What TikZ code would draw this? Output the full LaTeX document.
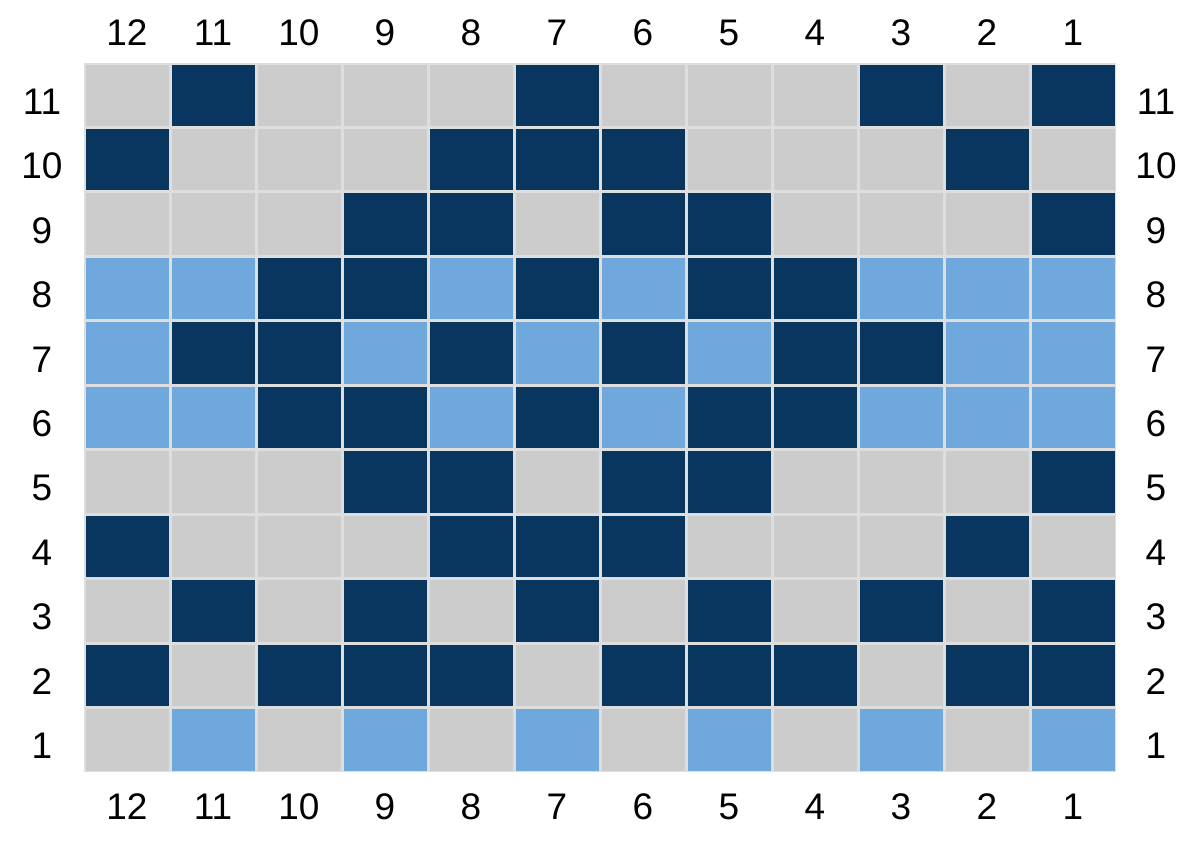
\documentclass[tikz,border=0pt]{standalone}
\usepackage{fontspec}
\setmainfont{Liberation Sans}
\definecolor{cg}{HTML}{CCCCCC}
\definecolor{cd}{HTML}{08365F}
\definecolor{cb}{HTML}{6FA8DC}
\definecolor{gridline}{HTML}{DEDEDE}
\begin{document}
\begin{tikzpicture}[x=0.5pt,y=-0.5pt,
  lab/.style={font=\fontsize{18.5}{20}\selectfont, inner sep=0pt, text=black}]
\useasboundingbox (0,0) rectangle (1200,863);
\fill[white] (0,0) rectangle (1200,863);
\fill[gridline] (84,63) rectangle (1116,772);
\foreach \r/\codes in {
  11/{g,d,g,g,g,d,g,g,g,d,g,d},
  10/{d,g,g,g,d,d,d,g,g,g,d,g},
  9/{g,g,g,d,d,g,d,d,g,g,g,d},
  8/{b,b,d,d,b,d,b,d,d,b,b,b},
  7/{b,d,d,b,d,b,d,b,d,d,b,b},
  6/{b,b,d,d,b,d,b,d,d,b,b,b},
  5/{g,g,g,d,d,g,d,d,g,g,g,d},
  4/{d,g,g,g,d,d,d,g,g,g,d,g},
  3/{g,d,g,d,g,d,g,d,g,d,g,d},
  2/{d,g,d,d,d,g,d,d,d,g,d,d},
  1/{g,b,g,b,g,b,g,b,g,b,g,b}}{
  \foreach \c [count=\i from 0] in \codes {
    \fill[c\c] ({84+86*\i+1.5},{63+64.4545*(11-\r)+1.5}) rectangle ++(83,61.45);
  }
}
\foreach \k in {1,...,12}{
  \node[lab] (top\k) at ({84+86*(12-\k)+43},32.5) {\k};
  \node[lab] (bot\k) at ({84+86*(12-\k)+43},807) {\k};
}
\foreach \r in {1,...,11}{
  \node[lab] (left\r) at (42,{63+64.4545*(11-\r)+38.5}) {\r};
  \node[lab] (right\r) at (1156,{63+64.4545*(11-\r)+38.5}) {\r};
}
\end{tikzpicture}
\end{document}
